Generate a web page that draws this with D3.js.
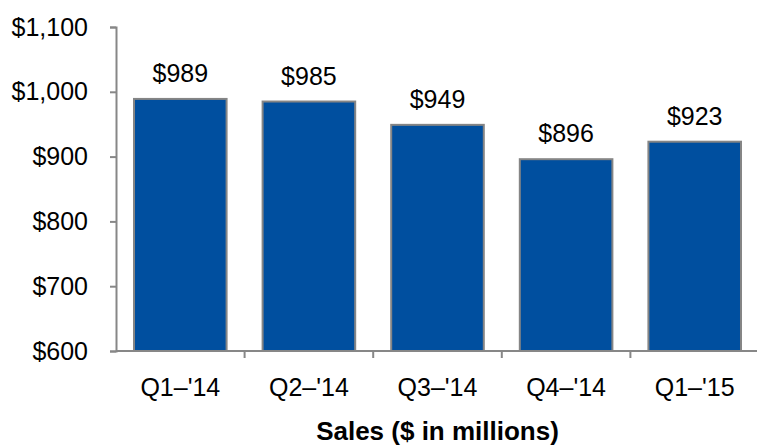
<!DOCTYPE html>
<html>
<head>
<meta charset="utf-8">
<script src="https://cdn.jsdelivr.net/npm/d3@7"></script>
<style>
  body { margin: 0; background: #fff; }
  text { font-family: "Liberation Sans", Arial, sans-serif; }
</style>
</head>
<body>
<div id="chart"></div>
<script>
const quarters = ["Q1–'14", "Q2–'14", "Q3–'14", "Q4–'14", "Q1–'15"];
const sales = [989, 985, 949, 896, 923];
const yTicks = [600, 700, 800, 900, 1000, 1100];
const title = "Sales ($ in millions)";

const W = 757, H = 445;
const margin = { top: 27, right: -2, bottom: 94, left: 116 };
const width = W - margin.left - margin.right;
const height = H - margin.top - margin.bottom;

const svg = d3.select("#chart")
  .append("svg")
  .attr("width", W)
  .attr("height", H);

const g = svg.append("g")
  .attr("transform", `translate(${margin.left},${margin.top})`);

const x = d3.scaleBand()
  .domain(quarters)
  .range([0, width])
  .paddingInner(0.28)
  .paddingOuter(0.14);

const y = d3.scaleLinear()
  .domain([600, 1100])
  .range([height, 0]);

const axisColor = "#878787";

// y axis
const yAxis = g.append("g")
  .call(d3.axisLeft(y)
    .tickValues(yTicks)
    .tickSize(6)
    .tickPadding(22)
    .tickFormat(d => "$" + d3.format(",")(d)));
yAxis.select(".domain").attr("stroke", axisColor).attr("stroke-width", 2);
yAxis.selectAll(".tick line").attr("stroke", axisColor).attr("stroke-width", 2);
yAxis.selectAll(".tick text")
  .attr("fill", "#000")
  .style("font-size", "25px");

// bars
g.selectAll(".bar")
  .data(sales)
  .enter().append("rect")
  .attr("class", "bar")
  .attr("x", (d, i) => x(quarters[i]))
  .attr("width", x.bandwidth())
  .attr("y", d => y(d))
  .attr("height", d => height - y(d))
  .attr("fill", "#004F9F")
  .attr("stroke", "#858585")
  .attr("stroke-width", 2);

// value labels
g.selectAll(".val")
  .data(sales)
  .enter().append("text")
  .attr("class", "val")
  .attr("x", (d, i) => x(quarters[i]) + x.bandwidth() / 2)
  .attr("y", d => y(d) - 17)
  .attr("text-anchor", "middle")
  .style("font-size", "25px")
  .text(d => "$" + d);

// x axis: line with ticks at band boundaries
const xg = g.append("g").attr("transform", `translate(0,${height})`);
xg.append("line")
  .attr("x1", 0).attr("x2", width)
  .attr("stroke", axisColor).attr("stroke-width", 2);
xg.selectAll(".xtick")
  .data(quarters.slice(1).concat(["end"]))
  .enter().append("line")
  .attr("x1", (d, i) => (i + 1) * x.step())
  .attr("x2", (d, i) => (i + 1) * x.step())
  .attr("y1", 0).attr("y2", 7)
  .attr("stroke", axisColor).attr("stroke-width", 2);
xg.selectAll(".xlab")
  .data(quarters)
  .enter().append("text")
  .attr("x", d => x(d) + x.bandwidth() / 2)
  .attr("y", 45)
  .attr("text-anchor", "middle")
  .style("font-size", "25px")
  .text(d => d);

// title
g.append("text")
  .attr("x", width / 2)
  .attr("y", height + 89)
  .attr("text-anchor", "middle")
  .style("font-size", "26px")
  .style("font-weight", "bold")
  .text(title);
</script>
</body>
</html>
